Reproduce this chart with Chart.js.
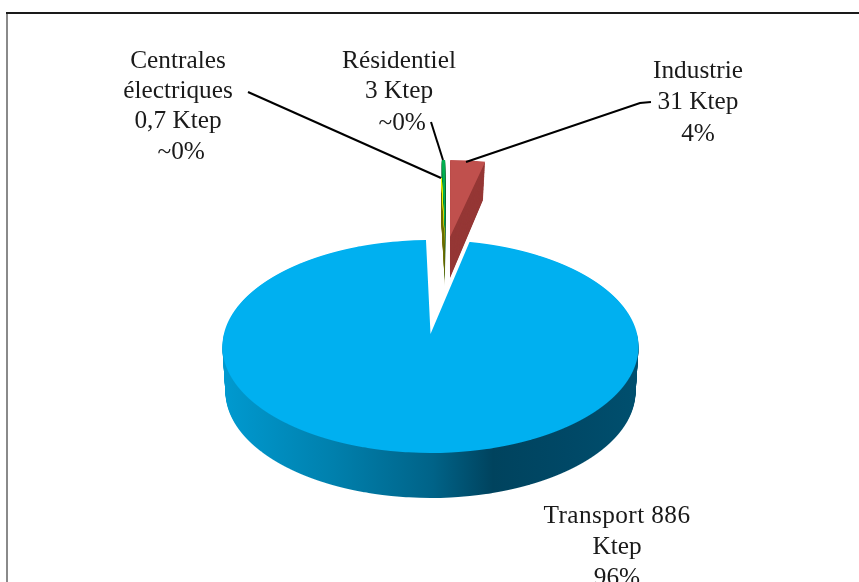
<!DOCTYPE html>
<html lang="fr">
<head>
<meta charset="utf-8">
<title>Consommation par secteur</title>
<script src="https://cdn.jsdelivr.net/npm/chart.js@4/dist/chart.umd.min.js"></script>
<style>
    html, body { margin: 0; padding: 0; background: #fff; overflow: hidden; }
    canvas { display: block; }
</style>
</head>
<body>
<canvas id="pie" width="859" height="582"></canvas>
<script>
const categories = ['Centrales électriques', 'Résidentiel', 'Industrie', 'Transport'];
const consumption = [0.7, 3, 31, 886];
const topColors = ['#FFFF00', '#00B050', '#C0504D', '#00B0F0'];
const sideColors = ['#6E6E00', '#00602C', '#953735', '#004A68'];

// Where each slice lands once tilted and pulled out of the pie
const sliceViews = [
    { x: 445, y: 246, rx: 160, ry: 68, rxEnd: 160, ryEnd: 68, depth: 41 },
    { x: 445, y: 240, rx: 167, ry: 80, rxEnd: 167, ryEnd: 80, depth: 41 },
    { x: 450, y: 237, rx: 167, ry: 77, rxEnd: 157, ryEnd: 80, depth: 41 }
];
const mainView = { x: 430.5, y: 334, rx: 206.6, rxEnd: 203.6, ry: 105, tilt: 0.1174, depth: 45 };

const sideShades = [
    [226, '#0099CF'], [333, '#0080AD'], [433, '#006388'],
    [493, '#00435E'], [567, '#004866'], [636, '#004F6E']
];

const labels = [
    { x: 178, lines: [['Centrales', 68], ['électriques', 98], ['0,7 Ktep', 128], [' ~0%', 159]] },
    { x: 399, lines: [['Résidentiel', 68], ['3 Ktep', 98], [' ~0%', 130]] },
    { x: 698, lines: [['Industrie', 78], ['31 Ktep', 109], ['4%', 141]] },
    { x: 617, lines: [['Transport 886', 523, '0.4px'], ['Ktep', 554], ['96%', 585]] }
];
const leaders = [
    [[248, 92], [441, 178]],
    [[431, 122], [443, 160]],
    [[466, 162], [640, 103], [651, 102]]
];

function withColor(arc, color, paint) {
    const saved = arc.options;
    arc.options = { ...saved, backgroundColor: color };
    paint();
    arc.options = saved;
}

function drawFlat(ctx, arc, view, d) {
    const t = d / view.depth;
    const rx = view.rx + (view.rxEnd - view.rx) * t;
    const ry = view.ry + (view.ryEnd - view.ry) * t;
    ctx.save();
    ctx.translate(view.x, view.y + d);
    ctx.scale(rx / arc.outerRadius, ry / arc.outerRadius);
    ctx.translate(-arc.x, -arc.y);
    arc.draw(ctx);
    ctx.restore();
}

// Perspective is not affine, so the big slice is drawn one pixel row at a time
function drawTilted(ctx, arc, view, d, nearOnly) {
    const R = arc.outerRadius;
    const k = view.tilt;
    const rx = view.rx + (view.rxEnd - view.rx) * d / view.depth;
    const first = nearOnly ? view.y : Math.floor(view.y - view.ry / (1 + k)) - 1;
    const last = Math.ceil(view.y + view.ry / (1 - k)) + 1;
    for (let row = first; row < last; row++) {
        const dy = row + 0.5 - view.y;
        const denom = view.ry + k * dy;
        const v = dy / denom;
        const w = view.ry / denom;
        const dv = view.ry / (denom * denom);
        ctx.save();
        ctx.beginPath();
        ctx.rect(0, row + d, ctx.canvas.width, 1);
        ctx.clip();
        ctx.translate(view.x, row + 0.5 + d);
        ctx.scale(rx / (R * w), 1 / (R * dv));
        ctx.translate(-arc.x, -(arc.y + R * v));
        arc.draw(ctx);
        ctx.restore();
    }
}

const tiltedPie = {
    id: 'tiltedPie',
    beforeDatasetDraw(chart, args) {
        const ctx = chart.ctx;
        const arcs = args.meta.data;
        const main = arcs[3];

        // Rim of the big slice: solid first, then shaded along x
        withColor(main, sideColors[3], () => {
            for (let d = mainView.depth; d > 0; d--) {
                drawTilted(ctx, main, mainView, d, true);
            }
        });
        const shade = ctx.createLinearGradient(226, 0, 636, 0);
        sideShades.forEach(s => shade.addColorStop((s[0] - 226) / 410, s[1]));
        ctx.save();
        ctx.globalCompositeOperation = 'source-atop';
        ctx.fillStyle = shade;
        ctx.fillRect(0, 0, chart.width, chart.height);
        ctx.restore();
        drawTilted(ctx, main, mainView, 0, false);

        // Pulled out slices, back to front
        [2, 1, 0].forEach(i => {
            withColor(arcs[i], sideColors[i], () => {
                for (let d = sliceViews[i].depth; d > 0; d--) {
                    drawFlat(ctx, arcs[i], sliceViews[i], d);
                }
            });
            drawFlat(ctx, arcs[i], sliceViews[i], 0);
        });

        // The yellow sliver is under a pixel wide, repaint it so it still shows
        drawFlat(ctx, arcs[0], sliceViews[0], 0);
        drawFlat(ctx, arcs[0], sliceViews[0], 0);
        return false;
    },
    afterDraw(chart) {
        const ctx = chart.ctx;
        ctx.save();

        // Frame, only the top and left edges fit in the picture
        ctx.fillStyle = '#8A8A8A';
        ctx.fillRect(6, 12, 2, chart.height - 12);
        ctx.fillStyle = '#1A1A1A';
        ctx.fillRect(6, 12, chart.width - 6, 2);

        ctx.strokeStyle = '#000';
        ctx.lineWidth = 2;
        leaders.forEach(points => {
            ctx.beginPath();
            points.forEach((p, i) => i ? ctx.lineTo(p[0], p[1]) : ctx.moveTo(p[0], p[1]));
            ctx.stroke();
        });

        ctx.fillStyle = '#1A1A1A';
        ctx.font = "25.3px 'Liberation Serif', serif";
        ctx.textAlign = 'center';
        ctx.textBaseline = 'alphabetic';
        labels.forEach(label => {
            label.lines.forEach(line => {
                ctx.letterSpacing = line[2] || '0px';
                ctx.fillText(line[0], label.x, line[1]);
            });
        });
        ctx.restore();
    }
};

new Chart(document.getElementById('pie').getContext('2d'), {
    type: 'pie',
    data: {
        labels: categories,
        datasets: [{
            data: consumption,
            backgroundColor: topColors,
            borderWidth: 0
        }]
    },
    options: {
        responsive: false,
        animation: false,
        rotation: -1.4,
        events: [],
        plugins: {
            legend: { display: false },
            tooltip: { enabled: false }
        }
    },
    plugins: [tiltedPie]
});
</script>
</body>
</html>
